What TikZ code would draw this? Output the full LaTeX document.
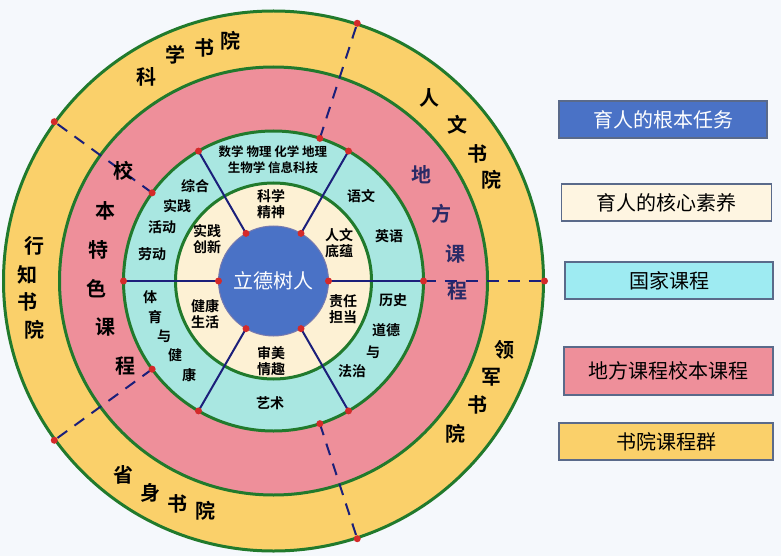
\documentclass[tikz,border=0pt]{standalone}
\usepackage{fontspec}
\usetikzlibrary{calc}
\setmainfont{Noto Sans CJK SC}
\newfontfamily\cjkb{Noto Sans CJK SC Bold}
\definecolor{cyel}{HTML}{FAD06A}
\definecolor{cpink}{HTML}{EE8F9A}
\definecolor{cteal}{HTML}{A9E7E1}
\definecolor{ccream}{HTML}{FDF1D4}
\definecolor{cblue}{HTML}{4A72C6}
\definecolor{cgreen}{HTML}{217A2C}
\definecolor{cnavy}{HTML}{1B1F7A}
\definecolor{cdot}{HTML}{D42A2A}
\definecolor{cbg}{HTML}{F5F8FC}
\definecolor{cbox}{HTML}{5A6A8A}
\definecolor{cteal2}{HTML}{9EEBF2}
\definecolor{cdark}{HTML}{2A2A66}
\begin{document}
\begin{tikzpicture}[x=1pt,y=-1pt,
 ring/.style={draw=cgreen,line width=3pt},
 spoke/.style={draw=cnavy,line width=2pt},
 dashl/.style={draw=cnavy,line width=2pt,dash pattern=on 12pt off 9pt},
 dot/.style={circle,fill=cdot,inner sep=0pt,minimum size=7pt},
 big/.style={font=\cjkb\fontsize{20}{20}\selectfont,inner sep=0pt},
 mid/.style={font=\cjkb\fontsize{14}{16}\selectfont,inner sep=0pt,align=center},
 sm/.style={font=\cjkb\fontsize{12.5}{15}\selectfont,inner sep=0pt,align=center},
 leg/.style={draw=cbox,line width=1.5pt,minimum width=210pt,minimum height=37pt,font=\fontsize{20}{20}\selectfont}]
\fill[cbg] (0,0) rectangle (781,556);
\useasboundingbox (0,0) rectangle (781,556);
\coordinate (O) at (273.5,281);
\fill[cyel,ring] (O) circle (270);
\fill[cpink,ring] (O) circle (214);
\fill[cteal,ring] (O) circle (150);
\fill[ccream,ring] (O) circle (98);
% spokes
\foreach \a/\n in {60/a,120/b,240/c,300/d}{
 \coordinate (in\n) at ($(O)+(\a:55)$);
 \coordinate (out\n) at ($(O)+(\a:150)$);
 \draw[spoke] (in\n) -- (out\n);
}
\coordinate (L) at ($(O)+(180:150)$);
\coordinate (R) at ($(O)+(0:150)$);
\draw[spoke] (L) -- (R);
% dashed
\foreach \a/\n in {0/e,72/f,144/g,216/h,288/i}{
 \coordinate (ds\n) at ($(O)+(\a:150)$);
 \coordinate (de\n) at ($(O)+(\a:271)$);
 \draw[dashl] (ds\n) -- (de\n);
}
\node[circle,fill=cblue,draw=cnavy!60,line width=1pt,minimum size=110pt,inner sep=0pt,text=white,font=\fontsize{20}{20}\selectfont] (c) at (O) {立德树人};
\foreach \n in {a,b,c,d}{\node[dot] at (in\n) {}; \node[dot] at (out\n) {};}
\node[dot] at ($(O)+(180:55)$) {}; \node[dot] at ($(O)+(0:55)$) {};
\foreach \n in {e,f,g,h,i}{\node[dot] at (ds\n) {}; \node[dot] at (de\n) {};}
\node[dot] at (L) {};
% outer yellow ring
\foreach \t/\x/\y in {科/146/77,学/175/55,书/204/48,院/230/41,
 人/429/98,文/457/125,书/477/154,院/491/180,
 行/34/246,知/27/275,书/27/302,院/34/330,
 领/504/350,军/491/377,书/477/405,院/455/434,
 省/123/475,身/150/493,书/177/504,院/205/511}
 \node[big] at (\x,\y) {\t};
\foreach \t/\x/\y in {校/123/171,本/105/211,特/98/250,色/96/289,课/105/327,程/125/366}
 \node[big] at (\x,\y) {\t};
\foreach \t/\x/\y in {地/421/175,方/441/214,课/455/254,程/457/291}
 \node[big,text=cdark] at (\x,\y) {\t};
% teal
\node[sm] at (273,152) {数学 物理 化学 地理};
\node[sm] at (273,168) {生物学 信息科技};
\foreach \t/\x/\y in {综合/195/186,实践/177/206,活动/162/227,劳动/152/254,
 语文/361/196,英语/389/236,历史/393/300,道德/386/330,与/373/352,法治/352/371,艺术/270/403,
 体/150/297,育/155/317,与/164/336,健/175/355,康/189/375}
 \node[mid] at (\x,\y) {\t};
% cream
\foreach \t/\x/\y in {科学\\精神/271/204,人文\\底蕴/339/243,实践\\创新/207/239,
 健康\\生活/205/314,责任\\担当/343/309,审美\\情趣/271/361}
 \node[mid] at (\x,\y) {\t};
% legend
\node[leg,fill=cblue,text=white,minimum width=208pt] (l1) at (663,119.5) {育人的根本任务};
\node[leg,fill=ccream!70] (l2) at (666.5,202.5) {育人的核心素养};
\node[leg,fill=cteal2,minimum width=208pt] (l3) at (669,280.5) {国家课程};
\node[leg,fill=cpink,minimum height=48pt,minimum width=209pt] (l4) at (668.5,371) {地方课程校本课程};
\node[leg,fill=cyel,minimum width=214pt] (l5) at (666,441.5) {书院课程群};
\end{tikzpicture}
\end{document}
